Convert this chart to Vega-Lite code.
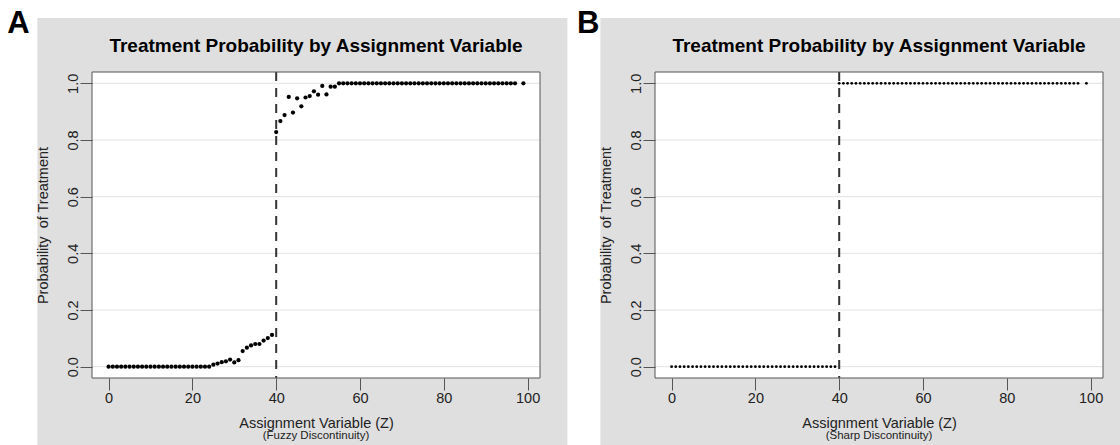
{
  "$schema": "https://vega.github.io/schema/vega-lite/v6.json",
  "padding": 0,
  "background": "white",
  "bounds": "flush",
  "spacing": 115,
  "config": {"view": {"stroke": null}, "font": "Liberation Sans"},
  "datasets": {
    "fuzzy": [
      {"z":0,"p":0},{"z":1,"p":0},{"z":2,"p":0},{"z":3,"p":0},{"z":4,"p":0},{"z":5,"p":0},{"z":6,"p":0},{"z":7,"p":0},{"z":8,"p":0},{"z":9,"p":0},
      {"z":10,"p":0},{"z":11,"p":0},{"z":12,"p":0},{"z":13,"p":0},{"z":14,"p":0},{"z":15,"p":0},{"z":16,"p":0},{"z":17,"p":0},{"z":18,"p":0},{"z":19,"p":0},
      {"z":20,"p":0},{"z":21,"p":0},{"z":22,"p":0},{"z":23,"p":0},{"z":24,"p":0},{"z":25,"p":0.007},{"z":26,"p":0.011},{"z":27,"p":0.016},{"z":28,"p":0.019},{"z":29,"p":0.025},
      {"z":30,"p":0.015},{"z":31,"p":0.023},{"z":32,"p":0.055},{"z":33,"p":0.067},{"z":34,"p":0.075},{"z":35,"p":0.08},{"z":36,"p":0.08},{"z":37,"p":0.092},{"z":38,"p":0.101},{"z":39,"p":0.112},
      {"z":40,"p":0.828},{"z":41,"p":0.867},{"z":42,"p":0.888},{"z":43,"p":0.952},{"z":44,"p":0.897},{"z":45,"p":0.947},{"z":46,"p":0.919},{"z":47,"p":0.95},{"z":48,"p":0.955},{"z":49,"p":0.972},
      {"z":50,"p":0.96},{"z":51,"p":0.991},{"z":52,"p":0.961},{"z":53,"p":0.988},{"z":54,"p":0.988},{"z":55,"p":1},{"z":56,"p":1},{"z":57,"p":1},{"z":58,"p":1},{"z":59,"p":1},
      {"z":60,"p":1},{"z":61,"p":1},{"z":62,"p":1},{"z":63,"p":1},{"z":64,"p":1},{"z":65,"p":1},{"z":66,"p":1},{"z":67,"p":1},{"z":68,"p":1},{"z":69,"p":1},
      {"z":70,"p":1},{"z":71,"p":1},{"z":72,"p":1},{"z":73,"p":1},{"z":74,"p":1},{"z":75,"p":1},{"z":76,"p":1},{"z":77,"p":1},{"z":78,"p":1},{"z":79,"p":1},
      {"z":80,"p":1},{"z":81,"p":1},{"z":82,"p":1},{"z":83,"p":1},{"z":84,"p":1},{"z":85,"p":1},{"z":86,"p":1},{"z":87,"p":1},{"z":88,"p":1},{"z":89,"p":1},
      {"z":90,"p":1},{"z":91,"p":1},{"z":92,"p":1},{"z":93,"p":1},{"z":94,"p":1},{"z":95,"p":1},{"z":96,"p":1},{"z":97,"p":1},{"z":99,"p":1}
    ],
    "sharp": [
      {"z":0,"p":0},{"z":1,"p":0},{"z":2,"p":0},{"z":3,"p":0},{"z":4,"p":0},{"z":5,"p":0},{"z":6,"p":0},{"z":7,"p":0},{"z":8,"p":0},{"z":9,"p":0},
      {"z":10,"p":0},{"z":11,"p":0},{"z":12,"p":0},{"z":13,"p":0},{"z":14,"p":0},{"z":15,"p":0},{"z":16,"p":0},{"z":17,"p":0},{"z":18,"p":0},{"z":19,"p":0},
      {"z":20,"p":0},{"z":21,"p":0},{"z":22,"p":0},{"z":23,"p":0},{"z":24,"p":0},{"z":25,"p":0},{"z":26,"p":0},{"z":27,"p":0},{"z":28,"p":0},{"z":29,"p":0},
      {"z":30,"p":0},{"z":31,"p":0},{"z":32,"p":0},{"z":33,"p":0},{"z":34,"p":0},{"z":35,"p":0},{"z":36,"p":0},{"z":37,"p":0},{"z":38,"p":0},{"z":39,"p":0},
      {"z":40,"p":1},{"z":41,"p":1},{"z":42,"p":1},{"z":43,"p":1},{"z":44,"p":1},{"z":45,"p":1},{"z":46,"p":1},{"z":47,"p":1},{"z":48,"p":1},{"z":49,"p":1},
      {"z":50,"p":1},{"z":51,"p":1},{"z":52,"p":1},{"z":53,"p":1},{"z":54,"p":1},{"z":55,"p":1},{"z":56,"p":1},{"z":57,"p":1},{"z":58,"p":1},{"z":59,"p":1},
      {"z":60,"p":1},{"z":61,"p":1},{"z":62,"p":1},{"z":63,"p":1},{"z":64,"p":1},{"z":65,"p":1},{"z":66,"p":1},{"z":67,"p":1},{"z":68,"p":1},{"z":69,"p":1},
      {"z":70,"p":1},{"z":71,"p":1},{"z":72,"p":1},{"z":73,"p":1},{"z":74,"p":1},{"z":75,"p":1},{"z":76,"p":1},{"z":77,"p":1},{"z":78,"p":1},{"z":79,"p":1},
      {"z":80,"p":1},{"z":81,"p":1},{"z":82,"p":1},{"z":83,"p":1},{"z":84,"p":1},{"z":85,"p":1},{"z":86,"p":1},{"z":87,"p":1},{"z":88,"p":1},{"z":89,"p":1},
      {"z":90,"p":1},{"z":91,"p":1},{"z":92,"p":1},{"z":93,"p":1},{"z":94,"p":1},{"z":95,"p":1},{"z":96,"p":1},{"z":97,"p":1},{"z":99,"p":1}
    ],
    "grid": [{"g":0},{"g":0.2},{"g":0.4},{"g":0.6},{"g":0.8},{"g":1}],
    "one": [{"k":1}]
  },
  "hconcat": [
    {
      "width": 448,
      "height": 306,
      "layer": [
        {"data": {"name": "one"}, "mark": {"type": "rect", "fill": "#ffffff", "opacity": 0, "clip": false},
         "encoding": {
           "x": {"datum": -25.9, "type": "quantitative", "scale": {"domain": [-3.96, 102.96], "nice": false, "zero": false},
                 "axis": {"title": "Assignment Variable (Z)", "values": [0, 20, 40, 60, 80, 100], "grid": false, "domain": false, "tickSize": 12, "tickColor": "#555555", "labelFontSize": 14.5, "labelPadding": 1, "labelColor": "#222222", "labelFlush": false, "labelOverlap": false, "titleFontSize": 14.5, "titleFontWeight": "normal", "titleColor": "#222222", "titlePadding": 12, "zindex": 1}},
           "x2": {"datum": -25},
           "y": {"datum": 1.2906, "type": "quantitative", "scale": {"domain": [-0.04, 1.04], "nice": false, "zero": false},
                 "axis": {"title": "Probability\u00a0 of Treatment", "values": [0, 0.2, 0.4, 0.6, 0.8, 1], "format": ".1f", "grid": false, "domain": false, "tickSize": 12, "tickColor": "#555555", "labelAngle": 270, "labelAlign": "center", "labelBaseline": "alphabetic", "labelFontSize": 14.5, "labelPadding": 3, "labelColor": "#222222", "labelFlush": false, "labelOverlap": false, "titleFontSize": 14.5, "titleFontWeight": "normal", "titleColor": "#222222", "titlePadding": 15, "zindex": 1}},
           "y2": {"datum": 1.28}}},
        {"data": {"name": "one"}, "mark": {"type": "rect", "fill": "#dfdfdf", "clip": false},
         "encoding": {"x": {"datum": -17.0, "type": "quantitative"}, "x2": {"datum": 109.5}, "y": {"datum": 1.2306, "type": "quantitative"}, "y2": {"datum": -0.2765}}},
        {"data": {"name": "one"}, "mark": {"type": "rect", "fill": "#ffffff", "clip": false},
         "encoding": {"x": {"datum": -3.96, "type": "quantitative"}, "x2": {"datum": 102.96}, "y": {"datum": 1.04, "type": "quantitative"}, "y2": {"datum": -0.04}}},
        {"data": {"name": "grid"}, "mark": {"type": "rule", "color": "#e2e2e2", "strokeWidth": 1},
         "encoding": {"y": {"field": "g", "type": "quantitative"}}},
        {"data": {"name": "one"}, "mark": {"type": "rule", "color": "#333333", "strokeWidth": 2, "strokeDash": [9, 7]},
         "encoding": {"x": {"datum": 40, "type": "quantitative"}}},
        {"data": {"name": "fuzzy"}, "mark": {"type": "circle", "color": "#000000", "opacity": 1, "size": 18},
         "encoding": {"x": {"field": "z", "type": "quantitative"}, "y": {"field": "p", "type": "quantitative"}}},
        {"data": {"name": "one"}, "mark": {"type": "rect", "filled": false, "stroke": "#555555", "strokeWidth": 1, "clip": false},
         "encoding": {"x": {"datum": -3.96, "type": "quantitative"}, "x2": {"datum": 102.96}, "y": {"datum": 1.04, "type": "quantitative"}, "y2": {"datum": -0.04}}},
        {"data": {"name": "one"}, "mark": {"type": "text", "text": "A", "fontSize": 31, "fontWeight": "bold", "align": "left", "baseline": "alphabetic", "color": "#000000", "clip": false},
         "encoding": {"x": {"datum": -24.2, "type": "quantitative"}, "y": {"datum": 1.1787, "type": "quantitative"}}},
        {"data": {"name": "one"}, "mark": {"type": "text", "text": "Treatment Probability by Assignment Variable", "fontSize": 19, "fontWeight": "bold", "align": "center", "baseline": "alphabetic", "color": "#000000", "clip": false},
         "encoding": {"x": {"datum": 49.5, "type": "quantitative"}, "y": {"datum": 1.1106, "type": "quantitative"}}},
        {"data": {"name": "one"}, "mark": {"type": "text", "text": "(Fuzzy Discontinuity)", "fontSize": 11.5, "align": "center", "baseline": "alphabetic", "color": "#222222", "clip": false},
         "encoding": {"x": {"datum": 49.5, "type": "quantitative"}, "y": {"datum": -0.2555, "type": "quantitative"}}}
      ]
    },
    {
      "width": 448,
      "height": 306,
      "layer": [
        {"data": {"name": "one"}, "mark": {"type": "rect", "fill": "#dfdfdf", "clip": false},
         "encoding": {
           "x": {"datum": -17.0, "type": "quantitative", "scale": {"domain": [-3.96, 102.96], "nice": false, "zero": false},
                 "axis": {"title": "Assignment Variable (Z)", "values": [0, 20, 40, 60, 80, 100], "grid": false, "domain": false, "tickSize": 12, "tickColor": "#555555", "labelFontSize": 14.5, "labelPadding": 1, "labelColor": "#222222", "labelFlush": false, "labelOverlap": false, "titleFontSize": 14.5, "titleFontWeight": "normal", "titleColor": "#222222", "titlePadding": 12, "zindex": 1}},
           "x2": {"datum": 107.09},
           "y": {"datum": 1.2306, "type": "quantitative", "scale": {"domain": [-0.04, 1.04], "nice": false, "zero": false},
                 "axis": {"title": "Probability\u00a0 of Treatment", "values": [0, 0.2, 0.4, 0.6, 0.8, 1], "format": ".1f", "grid": false, "domain": false, "tickSize": 12, "tickColor": "#555555", "labelAngle": 270, "labelAlign": "center", "labelBaseline": "alphabetic", "labelFontSize": 14.5, "labelPadding": 3, "labelColor": "#222222", "labelFlush": false, "labelOverlap": false, "titleFontSize": 14.5, "titleFontWeight": "normal", "titleColor": "#222222", "titlePadding": 15, "zindex": 1}},
           "y2": {"datum": -0.2765}}},
        {"data": {"name": "one"}, "mark": {"type": "rect", "fill": "#ffffff", "clip": false},
         "encoding": {"x": {"datum": -3.96, "type": "quantitative"}, "x2": {"datum": 102.96}, "y": {"datum": 1.04, "type": "quantitative"}, "y2": {"datum": -0.04}}},
        {"data": {"name": "grid"}, "mark": {"type": "rule", "color": "#e2e2e2", "strokeWidth": 1},
         "encoding": {"y": {"field": "g", "type": "quantitative"}}},
        {"data": {"name": "one"}, "mark": {"type": "rule", "color": "#333333", "strokeWidth": 2, "strokeDash": [9, 7]},
         "encoding": {"x": {"datum": 40, "type": "quantitative"}}},
        {"data": {"name": "sharp"}, "mark": {"type": "circle", "color": "#000000", "opacity": 1, "size": 8},
         "encoding": {"x": {"field": "z", "type": "quantitative"}, "y": {"field": "p", "type": "quantitative"}}},
        {"data": {"name": "one"}, "mark": {"type": "rect", "filled": false, "stroke": "#555555", "strokeWidth": 1, "clip": false},
         "encoding": {"x": {"datum": -3.96, "type": "quantitative"}, "x2": {"datum": 102.96}, "y": {"datum": 1.04, "type": "quantitative"}, "y2": {"datum": -0.04}}},
        {"data": {"name": "one"}, "mark": {"type": "text", "text": "B", "fontSize": 31, "fontWeight": "bold", "align": "left", "baseline": "alphabetic", "color": "#000000", "clip": false},
         "encoding": {"x": {"datum": -22.6, "type": "quantitative"}, "y": {"datum": 1.1787, "type": "quantitative"}}},
        {"data": {"name": "one"}, "mark": {"type": "text", "text": "Treatment Probability by Assignment Variable", "fontSize": 19, "fontWeight": "bold", "align": "center", "baseline": "alphabetic", "color": "#000000", "clip": false},
         "encoding": {"x": {"datum": 49.5, "type": "quantitative"}, "y": {"datum": 1.1106, "type": "quantitative"}}},
        {"data": {"name": "one"}, "mark": {"type": "text", "text": "(Sharp Discontinuity)", "fontSize": 11.5, "align": "center", "baseline": "alphabetic", "color": "#222222", "clip": false},
         "encoding": {"x": {"datum": 49.5, "type": "quantitative"}, "y": {"datum": -0.2555, "type": "quantitative"}}}
      ]
    }
  ]
}
